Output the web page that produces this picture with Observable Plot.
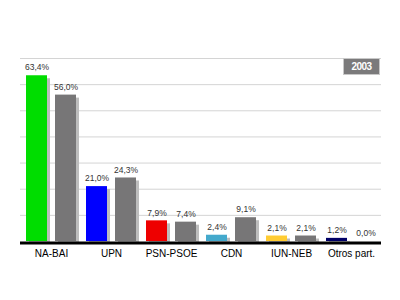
<!DOCTYPE html>
<html><head><meta charset="utf-8">
<script src="https://cdn.jsdelivr.net/npm/d3@7"></script>
<script src="https://cdn.jsdelivr.net/npm/@observablehq/plot@0.6"></script>
<style>
body{margin:0;background:#fff;}
#wrap{position:relative;width:400px;height:300px;font-family:Arial,"Liberation Sans",sans-serif;}
#year{position:absolute;left:343px;top:58px;width:35px;height:15px;background:#7b7a7b;border:1px solid #c8c8c8;color:#fff;font-weight:bold;font-size:10px;line-height:15px;text-align:center;letter-spacing:-0.5px;}
</style></head>
<body><div id="wrap"><div id="year">2003</div></div>
<script>
const parties = ["NA-BAI","UPN","PSN-PSOE","CDN","IUN-NEB","Otros part."];
const current = [63.4,21.0,7.9,2.4,2.1,1.2];
const previous = [56.0,24.3,7.4,9.1,2.1,0.0];
const colors = ["#00dd00","#0000ff","#ee0000","#44a9cc","#ffcc33","#000066"];
const gridTicks = [10,20,30,40,50,60,70];

const fmt = v => v.toFixed(1).replace(".", ",") + "%";
const cur = parties.map((p,i)=>({party:p, value:current[i], color:colors[i]}));
const prev = parties.map((p,i)=>({party:p, value:previous[i]}));

const chart = Plot.plot({
  width:400, height:300,
  marginLeft:20, marginRight:19, marginTop:58, marginBottom:59,
  style:{fontFamily:"Arial, 'Liberation Sans', sans-serif", background:"transparent"},
  x:{domain:parties, padding:0, label:null, tickSize:0, tickPadding:8, fontSize:10},
  y:{domain:[0,70], axis:null},
  marks:[
    Plot.ruleY(gridTicks, {stroke:"#d4d4d4", strokeWidth:1}),
    // shadows
    Plot.barY(cur, {x:"party", y:"value", fill:"#bdbdbd", insetLeft:5, insetRight:34, dx:3, dy:3}),
    Plot.barY(prev, {x:"party", y:"value", fill:"#bdbdbd", insetLeft:34, insetRight:5, dx:3, dy:3}),
    // bars
    Plot.barY(cur, {x:"party", y:"value", fill:"color", insetLeft:5, insetRight:34}),
    Plot.barY(prev, {x:"party", y:"value", fill:"#777677", insetLeft:34, insetRight:5}),
    Plot.ruleY([0], {stroke:"#000", strokeWidth:3, dy:1.5}),
    Plot.text(cur, {x:"party", y:"value", text:d=>fmt(d.value), dx:-14.5, dy:-8, fontSize:8.5, fill:"#333"}),
    Plot.text(prev, {x:"party", y:"value", text:d=>fmt(d.value), dx:14.5, dy:-8, fontSize:8.5, fill:"#333"})
  ]
});
chart.style.position="absolute"; chart.style.left="0"; chart.style.top="0";
chart.querySelectorAll("g[aria-label='x-axis tick label'] text, g[aria-label='x-axis'] text").forEach(t=>{t.setAttribute("fill","#000"); t.style.fontSize="10px";});
document.getElementById("wrap").prepend(chart);
</script>
</body></html>
